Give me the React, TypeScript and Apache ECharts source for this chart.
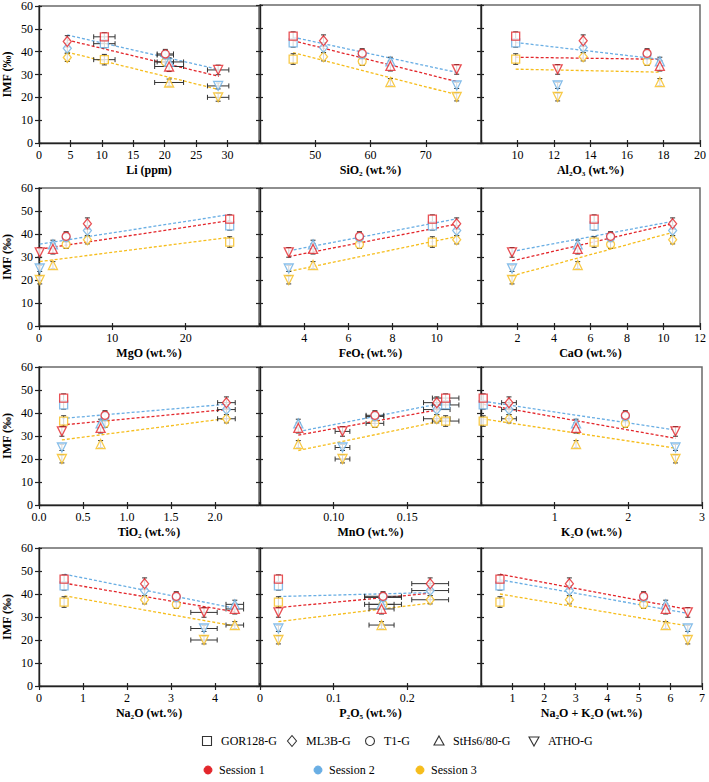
import React, { useEffect, useRef } from 'react';
import * as echarts from 'echarts';

const FONT = "'Liberation Serif', 'Times New Roman', serif";

const materials = ['GOR128-G', 'ML3B-G', 'T1-G', 'StHs6/80-G', 'ATHO-G'];
const sessions = ['Session 1', 'Session 2', 'Session 3'];
const sessionColors = ['#e3262b', '#69aee4', '#f6bd1c'];

// IMF (‰) per material, per session
const imfS1 = [46.5, 44.5, 39.0, 33.5, 32.0];
const imfS2 = [43.5, 41.5, 38.5, 35.5, 25.0];
const imfS3 = [36.5, 37.5, 35.5, 26.5, 20.0];
const imfErrS1 = [1.8, 2.5, 2.0, 2.2, 2.1];
const imfErrS2 = [1.8, 2.2, 2.0, 1.8, 1.3];
const imfErrS3 = [2.3, 1.8, 1.8, 1.5, 1.7];

// compositions per material (GOR128-G, ML3B-G, T1-G, StHs6/80-G, ATHO-G)
const li = [10.4, 4.5, 20.1, 20.7, 28.5];
const liErr = [1.7, 0.3, 1.3, 2.3, 1.7];
const sio2 = [46.0, 51.5, 58.5, 63.6, 75.6];
const sio2Err = [0.3, 0.3, 0.3, 0.3, 0.3];
const al2o3 = [9.9, 13.6, 17.1, 17.8, 12.2];
const al2o3Err = [0.1, 0.1, 0.1, 0.1, 0.1];
const mgo = [26.0, 6.6, 3.7, 1.9, 0.1];
const mgoErr = [0.1, 0.1, 0.1, 0.1, 0.02];
const feot = [9.8, 10.9, 6.5, 4.4, 3.3];
const feotErr = [0.05, 0.05, 0.05, 0.05, 0.05];
const cao = [6.2, 10.5, 7.1, 5.3, 1.7];
const caoErr = [0.05, 0.05, 0.05, 0.05, 0.05];
const tio2 = [0.28, 2.13, 0.75, 0.7, 0.26];
const tio2Err = [0.01, 0.1, 0.02, 0.02, 0.01];
const mno = [0.176, 0.17, 0.128, 0.076, 0.106];
const mnoErr = [0.009, 0.009, 0.006, 0.003, 0.005];
const k2o = [0.03, 0.38, 1.96, 1.29, 2.64];
const k2oErr = [0.01, 0.1, 0.02, 0.03, 0.03];
const na2o = [0.57, 2.4, 3.12, 4.45, 3.75];
const na2oErr = [0.02, 0.05, 0.05, 0.2, 0.3];
const p2o5 = [0.025, 0.231, 0.167, 0.165, 0.025];
const p2o5Err = [0.001, 0.025, 0.025, 0.017, 0.002];
const naK = [0.6, 2.8, 5.15, 5.85, 6.55];
const naKErr = [0.02, 0.05, 0.05, 0.05, 0.05];

// trend lines: x range and [start, end] IMF for Session 1, 2, 3
const liTrendX = [4.5, 28.6];
const liTrend = [[45.1, 29.2], [47.3, 32.2], [39.8, 23.4]];
const sio2TrendX = [46, 75.6];
const sio2Trend = [[44.5, 26.7], [46.0, 30.7], [39.3, 21.0]];
const al2o3TrendX = [9.9, 17.8];
const al2o3Trend = [[37.3, 36.4], [43.7, 36.4], [32.1, 30.8]];
const mgoTrendX = [0.1, 26.1];
const mgoTrend = [[33.4, 45.9], [35.6, 48.5], [28.0, 38.6]];
const feotTrendX = [3.3, 10.9];
const feotTrend = [[30.2, 44.3], [32.7, 46.6], [23.7, 38.9]];
const caoTrendX = [1.7, 10.5];
const caoTrend = [[28.3, 44.5], [32.4, 45.5], [21.8, 40.7]];
const tio2TrendX = [0.26, 2.13];
const tio2Trend = [[34.8, 41.5], [37.6, 43.8], [28.3, 37.6]];
const mnoTrendX = [0.076, 0.176];
const mnoTrend = [[30.4, 42.0], [31.9, 44.6], [23.7, 36.9]];
const k2oTrendX = [0.03, 2.64];
const k2oTrend = [[43.8, 29.0], [45.1, 32.6], [37.4, 24.7]];
const na2oTrendX = [0.58, 4.45];
const na2oTrend = [[44.7, 32.3], [48.6, 33.8], [39.2, 26.1]];
const p2o5TrendX = [0.025, 0.23];
const p2o5Trend = [[34.1, 40.3], [38.9, 40.6], [28.0, 36.0]];
const naKTrendX = [0.6, 6.55];
const naKTrend = [[48.6, 33.3], [46.2, 31.6], [40.0, 26.1]];

const yTicks = [0, 10, 20, 30, 40, 50, 60];

const panels = [
  { name: 'Li (ppm)', x: li, xe: liErr, min: 0, max: 35, interval: 5, tx: liTrendX, tr: liTrend },
  { name: 'SiO₂ (wt.%)', x: sio2, xe: sio2Err, min: 40, max: 80, interval: 10, tx: sio2TrendX, tr: sio2Trend },
  { name: 'Al₂O₃ (wt.%)', x: al2o3, xe: al2o3Err, min: 8, max: 20, interval: 2, tx: al2o3TrendX, tr: al2o3Trend },
  { name: 'MgO (wt.%)', x: mgo, xe: mgoErr, min: 0, max: 30, interval: 10, tx: mgoTrendX, tr: mgoTrend },
  { name: 'FeOₜ (wt.%)', x: feot, xe: feotErr, min: 2, max: 12, interval: 2, tx: feotTrendX, tr: feotTrend },
  { name: 'CaO (wt.%)', x: cao, xe: caoErr, min: 0, max: 12, interval: 2, tx: caoTrendX, tr: caoTrend },
  { name: 'TiO₂ (wt.%)', x: tio2, xe: tio2Err, min: 0, max: 2.5, interval: 0.5, tx: tio2TrendX, tr: tio2Trend, fmt: (v: number) => v.toFixed(1) },
  { name: 'MnO (wt.%)', x: mno, xe: mnoErr, min: 0.05, max: 0.2, interval: 0.05, tx: mnoTrendX, tr: mnoTrend, fmt: (v: number) => v.toFixed(2) },
  { name: 'K₂O (wt.%)', x: k2o, xe: k2oErr, min: 0, max: 3, interval: 1, tx: k2oTrendX, tr: k2oTrend },
  { name: 'Na₂O (wt.%)', x: na2o, xe: na2oErr, min: 0, max: 5, interval: 1, tx: na2oTrendX, tr: na2oTrend },
  { name: 'P₂O₅ (wt.%)', x: p2o5, xe: p2o5Err, min: 0, max: 0.3, interval: 0.1, tx: p2o5TrendX, tr: p2o5Trend, showMin: true, fmt: (v: number) => (v === 0 ? '0' : v.toFixed(1)) },
  { name: 'Na₂O + K₂O (wt.%)', x: naK, xe: naKErr, min: 0, max: 7, interval: 1, tx: naKTrendX, tr: naKTrend },
];

const colLeft = [38, 260, 481];
const rowTop = [5, 188, 367, 548];
const GW = 221;
const GH = 138;

const symbols = ['rect', 'diamond', 'circle', 'triangle', 'triangle'];
const symbolRot = [0, 0, 0, 0, 180];
const symbolSizes: any[] = [8, [8, 10], 8, 9, 9];

function buildOption() {
  const imf = [imfS1, imfS2, imfS3];
  const imfErr = [imfErrS1, imfErrS2, imfErrS3];
  const grid: any[] = [];
  const xAxis: any[] = [];
  const yAxis: any[] = [];
  const series: any[] = [];

  panels.forEach((p: any, i) => {
    const row = Math.floor(i / 3);
    const col = i % 3;
    grid.push({
      left: colLeft[col], top: rowTop[row], width: GW, height: GH,
      show: true, borderColor: '#6a6a6a', borderWidth: 1.5, backgroundColor: 'transparent',
    });
    const showMin = col === 0 ? true : !!p.showMin;
    const showMax = col === 2;
    xAxis.push({
      gridIndex: i, type: 'value', min: p.min, max: p.max, interval: p.interval, position: 'bottom',
      axisLine: { show: true, onZero: false, lineStyle: { color: '#222', width: 1.4 } },
      axisTick: { show: true, length: 4, lineStyle: { color: '#222', width: 1.2 } },
      axisLabel: {
        show: true, showMinLabel: showMin, showMaxLabel: showMax, margin: 6,
        fontFamily: FONT, fontSize: 12, color: '#000',
        formatter: p.fmt ? p.fmt : (v: number) => String(v),
      },
      splitLine: { show: false },
      name: p.name, nameLocation: 'middle', nameGap: 21,
      nameTextStyle: { fontFamily: FONT, fontWeight: 'bold', fontSize: 12, color: '#000' },
    });
    xAxis.push({
      gridIndex: i, type: 'value', min: p.min, max: p.max, interval: p.interval, position: 'bottom',
      axisLine: { show: false, onZero: false },
      axisTick: { show: true, inside: true, length: 3, lineStyle: { color: '#222', width: 1.2 } },
      axisLabel: { show: false }, splitLine: { show: false },
    });
    yAxis.push({
      gridIndex: i, type: 'value', min: yTicks[0], max: yTicks[yTicks.length - 1], interval: 10, position: 'left',
      axisLine: { show: true, onZero: false, lineStyle: { color: '#222', width: 1.4 } },
      axisTick: { show: true, length: 4, lineStyle: { color: '#222', width: 1.2 } },
      axisLabel: { show: col === 0, margin: 6, fontFamily: FONT, fontSize: 12, color: '#000' },
      splitLine: { show: false },
      name: col === 0 ? 'IMF (‰)' : '', nameLocation: 'middle', nameGap: 26, nameRotate: 90,
      nameTextStyle: { fontFamily: FONT, fontWeight: 'bold', fontSize: 12, color: '#000' },
    });
    yAxis.push({
      gridIndex: i, type: 'value', min: yTicks[0], max: yTicks[yTicks.length - 1], interval: 10, position: 'left', offset: 0,
      axisLine: { show: false, onZero: false },
      axisTick: { show: true, inside: true, length: 3, lineStyle: { color: '#222', width: 1.2 } },
      axisLabel: { show: false }, splitLine: { show: false },
    });

    const xi = 2 * i;
    const yi = 2 * i;

    // trend lines
    for (let s = 0; s < 3; s++) {
      series.push({
        type: 'line', xAxisIndex: xi, yAxisIndex: yi, silent: true, z: 1,
        data: [[p.tx[0], p.tr[s][0]], [p.tx[1], p.tr[s][1]]],
        showSymbol: false, symbol: 'none',
        lineStyle: { color: sessionColors[s], width: 1.3, type: [3, 2] },
      });
    }

    // error bars
    const ebData: any[] = [];
    for (let s = 2; s >= 0; s--) {
      materials.forEach((_, m) => {
        ebData.push([p.x[m], imf[s][m], p.xe[m], imfErr[s][m]]);
      });
    }
    series.push({
      type: 'custom', xAxisIndex: xi, yAxisIndex: yi, z: 2, silent: true,
      encode: { x: 0, y: 1 },
      data: ebData,
      renderItem: (params: any, api: any) => {
        const x = api.value(0), y = api.value(1), xe = api.value(2), ye = api.value(3);
        const top = api.coord([x, y + ye]);
        const bot = api.coord([x, y - ye]);
        const l = api.coord([x - xe, y]);
        const r = api.coord([x + xe, y]);
        const cap = 2.5;
        const st = { stroke: '#333', lineWidth: 1 };
        const children: any[] = [
          { type: 'line', shape: { x1: top[0], y1: top[1], x2: bot[0], y2: bot[1] }, style: st },
          { type: 'line', shape: { x1: top[0] - cap, y1: top[1], x2: top[0] + cap, y2: top[1] }, style: st },
          { type: 'line', shape: { x1: bot[0] - cap, y1: bot[1], x2: bot[0] + cap, y2: bot[1] }, style: st },
        ];
        if (r[0] - l[0] > 9) {
          children.push(
            { type: 'line', shape: { x1: l[0], y1: l[1], x2: r[0], y2: r[1] }, style: st },
            { type: 'line', shape: { x1: l[0], y1: l[1] - cap, x2: l[0], y2: l[1] + cap }, style: st },
            { type: 'line', shape: { x1: r[0], y1: r[1] - cap, x2: r[0], y2: r[1] + cap }, style: st },
          );
        }
        return { type: 'group', children };
      },
    });

    // markers (session 3 first so session 1 is on top)
    for (let s = 2; s >= 0; s--) {
      series.push({
        type: 'scatter', xAxisIndex: xi, yAxisIndex: yi, z: 3, silent: true,
        name: sessions[s],
        data: materials.map((_, m) => ({
          value: [p.x[m], imf[s][m]],
          symbol: symbols[m], symbolRotate: symbolRot[m], symbolSize: symbolSizes[m],
        })),
        itemStyle: { color: '#fff', borderColor: sessionColors[s], borderWidth: 1.3 },
      });
    }
  });

  // legend (graphic)
  const graphic: any[] = [];
  const ly1 = 741;
  const matX = [207, 292, 370, 439, 534];
  const stroke = { fill: 'none', stroke: '#333', lineWidth: 1.1 };
  materials.forEach((name, m) => {
    const cx = matX[m];
    if (m === 0) graphic.push({ type: 'rect', shape: { x: cx - 4.5, y: ly1 - 4.5, width: 9, height: 9 }, style: stroke });
    if (m === 1) graphic.push({ type: 'polygon', shape: { points: [[cx, ly1 - 5.5], [cx + 4.5, ly1], [cx, ly1 + 5.5], [cx - 4.5, ly1]] }, style: stroke });
    if (m === 2) graphic.push({ type: 'circle', shape: { cx, cy: ly1, r: 4.5 }, style: stroke });
    if (m === 3) graphic.push({ type: 'polygon', shape: { points: [[cx, ly1 - 5], [cx + 5, ly1 + 4], [cx - 5, ly1 + 4]] }, style: stroke });
    if (m === 4) graphic.push({ type: 'polygon', shape: { points: [[cx, ly1 + 5], [cx + 5, ly1 - 4], [cx - 5, ly1 - 4]] }, style: stroke });
    graphic.push({
      type: 'text', x: cx + 14, y: ly1,
      style: { text: name, fill: '#000', font: `12px ${FONT}`, textVerticalAlign: 'middle', verticalAlign: 'middle' },
    });
  });
  const ly2 = 770;
  const sesX = [208, 318, 420];
  sessions.forEach((name, s) => {
    graphic.push({ type: 'circle', shape: { cx: sesX[s], cy: ly2, r: 4 }, style: { fill: sessionColors[s], stroke: sessionColors[s], lineWidth: 1 } });
    graphic.push({
      type: 'text', x: sesX[s] + 11, y: ly2,
      style: { text: name, fill: '#000', font: `12px ${FONT}`, textVerticalAlign: 'middle', verticalAlign: 'middle' },
    });
  });

  return {
    animation: false,
    backgroundColor: '#fff',
    textStyle: { fontFamily: FONT },
    grid, xAxis, yAxis, series, graphic,
  };
}

export default function App() {
  const ref = useRef<HTMLDivElement>(null);
  useEffect(() => {
    const chart = echarts.init(ref.current as HTMLDivElement, null, { renderer: 'svg' });
    chart.setOption(buildOption() as any);
    return () => chart.dispose();
  }, []);
  return (
    <div
      ref={ref}
      style={{ position: 'absolute', left: 0, top: 0, width: 709, height: 782, background: '#fff' }}
    />
  );
}
